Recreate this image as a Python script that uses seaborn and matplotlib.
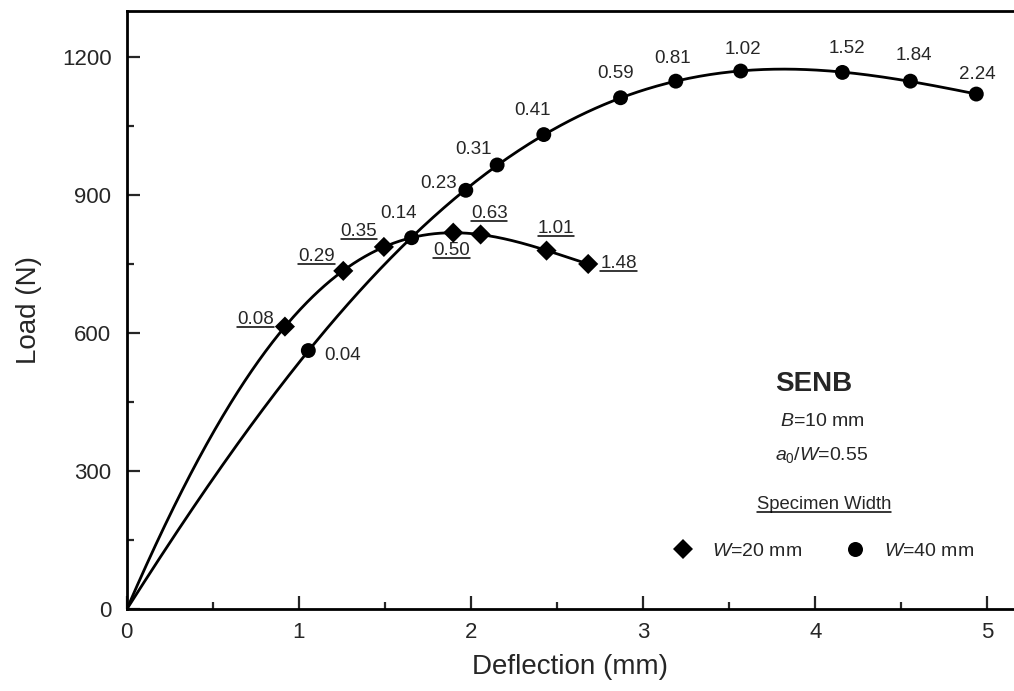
import numpy as np
import pandas as pd
import matplotlib
matplotlib.use("Agg")
import matplotlib.pyplot as plt
import seaborn as sns
from matplotlib.lines import Line2D
from matplotlib.ticker import MultipleLocator

# Measured load-deflection points; the tags give the crack extension at each point
defl_w20 = [0.919, 1.258, 1.494, 1.897, 2.056, 2.439, 2.681]
load_w20 = [614, 735, 787, 818, 814, 779, 750]
tags_w20 = ["0.08", "0.29", "0.35", "0.50", "0.63", "1.01", "1.48"]

defl_w40 = [1.055, 1.655, 1.970, 2.152, 2.423, 2.869, 3.190, 3.567, 4.158, 4.553, 4.936]
load_w40 = [562, 807, 910, 965, 1031, 1111, 1147, 1169, 1166, 1147, 1119]
tags_w40 = ["0.04", "0.14", "0.23", "0.31", "0.41", "0.59", "0.81", "1.02", "1.52", "1.84", "2.24"]

x_ticks = [0, 1, 2, 3, 4, 5]
y_ticks = [0, 300, 600, 900, 1200]

# tag offsets from their points, in points
offs_w20 = [(-21.2, 4.8), (-19.2, 10.1), (-18.0, 10.8), (-1.4, -12.7),
            (6.1, 15.1), (6.9, 16.1), (21.9, 0.0)]
offs_w40 = [(24.5, -3.6), (-9.1, 17.3), (-19.8, 4.8), (-16.9, 10.8),
            (-8.3, 17.5), (-3.7, 17.8), (-2.5, 16.1), (1.7, 15.7),
            (3.5, 17.0), (2.5, 18.4), (0.7, 14.3)]

sns.set_style("ticks")
plt.rcParams["font.family"] = ["Liberation Sans", "DejaVu Sans"]
plt.rcParams["mathtext.fontset"] = "custom"
plt.rcParams["mathtext.rm"] = "Liberation Sans"
plt.rcParams["mathtext.it"] = "Liberation Sans:italic"
plt.rcParams["mathtext.bf"] = "Liberation Sans:bold"


def smooth_fit(x, y, deg):
    """Least-squares polynomial through the origin, evaluated on a fine grid."""
    x = np.asarray(x, float)
    y = np.asarray(y, float)
    A = np.column_stack([x ** k for k in range(1, deg + 1)])
    coef, *_ = np.linalg.lstsq(A, y, rcond=None)
    xs = np.linspace(0, x.max(), 400)
    ys = np.column_stack([xs ** k for k in range(1, deg + 1)]) @ coef
    return xs, ys


fig = plt.figure(figsize=(10.14, 6.91), dpi=100)
ax = fig.add_axes([0.1250, 0.1182, 0.8750, 0.8663])

xs20, ys20 = smooth_fit(defl_w20, load_w20, 4)
xs40, ys40 = smooth_fit(defl_w40, load_w40, 4)
sns.lineplot(x=xs20, y=ys20, color="black", lw=2.0, ax=ax, estimator=None, sort=False)
sns.lineplot(x=xs40, y=ys40, color="black", lw=2.0, ax=ax, estimator=None, sort=False)

df20 = pd.DataFrame({"d": defl_w20, "p": load_w20})
df40 = pd.DataFrame({"d": defl_w40, "p": load_w40})
sns.scatterplot(data=df20, x="d", y="p", marker="D", s=105, color="black",
                edgecolor="none", ax=ax, zorder=5)
sns.scatterplot(data=df40, x="d", y="p", marker="o", s=115, color="black",
                edgecolor="none", ax=ax, zorder=5)

tag_font = 13.5
underlined = []
for x, y, t, o in zip(defl_w20, load_w20, tags_w20, offs_w20):
    a = ax.annotate(t, (x, y), xytext=o, textcoords="offset points",
                    ha="center", va="center", fontsize=tag_font)
    underlined.append(a)
for x, y, t, o in zip(defl_w40, load_w40, tags_w40, offs_w40):
    ax.annotate(t, (x, y), xytext=o, textcoords="offset points",
                ha="center", va="center", fontsize=tag_font)

ax.set_xlim(0, 5.155)
ax.set_ylim(0, 1300)
ax.set_xticks(x_ticks)
ax.set_yticks(y_ticks)
ax.xaxis.set_minor_locator(MultipleLocator(0.5))
ax.yaxis.set_minor_locator(MultipleLocator(150))
ax.tick_params(which="major", direction="in", length=9.5, width=1.6,
               labelsize=16, pad=9, top=False, right=False)
ax.tick_params(which="minor", direction="in", length=5, width=1.6,
               top=False, right=False)
ax.tick_params(axis="y", pad=11)
for side in ["left", "bottom", "top"]:
    ax.spines[side].set_linewidth(2.0)
    ax.spines[side].set_color("black")
ax.spines["right"].set_visible(False)

ax.set_xlabel("Deflection (mm)", fontsize=20, labelpad=8)
ax.set_ylabel("Load (N)", fontsize=20, labelpad=14)

ax.text(3.99, 489, "SENB", fontsize=20, fontweight="bold", ha="center", va="center")
ax.text(4.04, 407, r"$B$=10 mm", fontsize=14, ha="center", va="center")
ax.text(4.035, 335, r"$a_0$/$W$=0.55", fontsize=14, ha="center", va="center")

handles = [
    Line2D([], [], marker="D", ls="", color="black", markersize=10.4, markeredgewidth=0),
    Line2D([], [], marker="o", ls="", color="black", markersize=10.8, markeredgewidth=0),
]
leg = ax.legend(handles, [r"$W$=20 mm", r"$W$=40 mm"], title="Specimen Width",
                ncol=2, frameon=False, fontsize=14, title_fontsize=13.3,
                handlelength=1.0, handletextpad=1.0, columnspacing=2.2,
                labelspacing=1.5, borderpad=0, loc="center",
                bbox_to_anchor=(4.05, 176), bbox_transform=ax.transData)

# underline the W = 20 mm tags and the legend heading
fig.canvas.draw()
renderer = fig.canvas.get_renderer()
inv = fig.transFigure.inverted()
for t in underlined + [leg.get_title()]:
    bb = t.get_window_extent(renderer)
    (x0, y0), (x1, _) = inv.transform([(bb.x0, bb.y0 + 1), (bb.x1, bb.y0 + 1)])
    fig.add_artist(Line2D([x0, x1], [y0, y0], transform=fig.transFigure,
                          color="black", lw=1.1))

fig.savefig("out.png", dpi=100)
